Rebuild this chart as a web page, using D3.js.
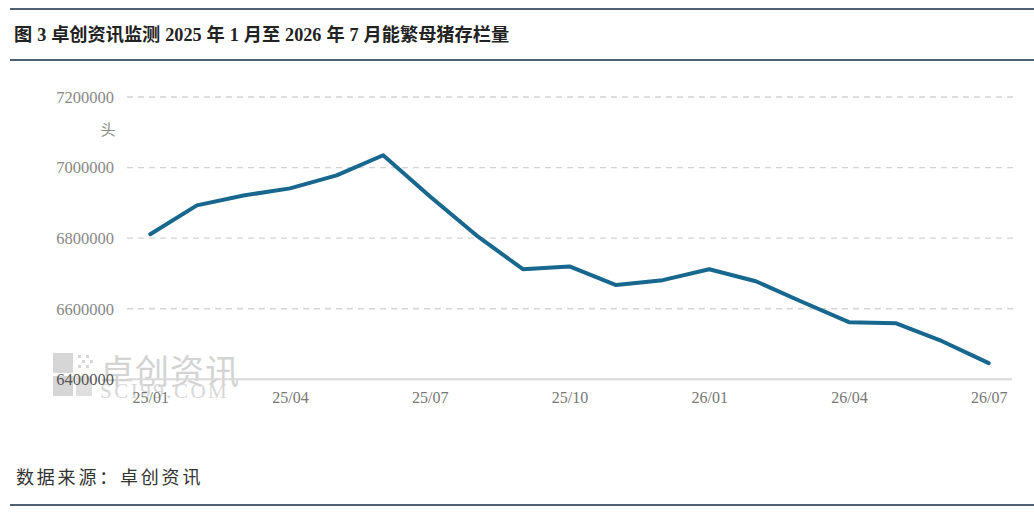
<!DOCTYPE html>
<html>
<head>
<meta charset="utf-8">
<script src="https://cdn.jsdelivr.net/npm/d3@7/dist/d3.min.js"></script>
<style>
  html, body { margin: 0; padding: 0; background: #fff; }
  svg { display: block; }
</style>
</head>
<body>
<svg id="chart" width="1034" height="519"></svg>
<script>
// ---- data ----
const months = ["25/01","25/02","25/03","25/04","25/05","25/06","25/07","25/08","25/09","25/10",
                "25/11","25/12","26/01","26/02","26/03","26/04","26/05","26/06","26/07"];
const sowStock = [6811000, 6893000, 6921000, 6941000, 6978000, 7035000, 6919000, 6808000, 6712000, 6720000,
                  6667000, 6681000, 6712000, 6678000, 6619000, 6562000, 6559000, 6508000, 6446000];
const yTicks = [6400000, 6600000, 6800000, 7000000, 7200000];
const xTickLabels = ["25/01","25/04","25/07","25/10","26/01","26/04","26/07"];
const titleText = "图 3 卓创资讯监测 2025 年 1 月至 2026 年 7 月能繁母猪存栏量";
const sourceText = "数据来源：卓创资讯";
const unitText = "头";

const svg = d3.select("#chart");
const serif = "'Liberation Serif', 'Times New Roman', 'Noto Sans CJK SC', serif";
const cjk = "'Liberation Serif', 'Noto Sans CJK SC', sans-serif";

// frame rules
const ruleColor = "#4d6070";
[9, 60, 505].forEach(y => {
  svg.append("line").attr("x1", 10).attr("x2", 1034).attr("y1", y).attr("y2", y)
    .attr("stroke", ruleColor).attr("stroke-width", 2);
});

svg.append("text").attr("x", 14).attr("y", 41)
  .attr("font-family", cjk).attr("font-size", 18.2).attr("font-weight", "bold")
  .attr("word-spacing", 0.4).attr("fill", "#222").text(titleText);

svg.append("text").attr("x", 16).attr("y", 484)
  .attr("font-family", "'Noto Sans CJK SC', sans-serif").attr("font-size", 18)
  .attr("letter-spacing", 2.8).attr("fill", "#333").text(sourceText);

// scales
const x = d3.scalePoint().domain(months).range([127, 1012]).padding(0.5);
const y = d3.scaleLinear().domain([6400000, 7200000]).range([379.3, 97]);

// watermark
const wm = svg.append("g").attr("opacity", 0.55);
wm.append("rect").attr("x", 53).attr("y", 353).attr("width", 20).attr("height", 20).attr("fill", "#b5b5b5");
wm.append("rect").attr("x", 53).attr("y", 376).attr("width", 20).attr("height", 20).attr("fill", "#b5b5b5");
wm.append("rect").attr("x", 76).attr("y", 376).attr("width", 16).attr("height", 20).attr("fill", "#c5c5c5");
[[78,355],[86,355],[82,360],[78,365],[86,365],[90,360]].forEach(p => {
  wm.append("rect").attr("x", p[0]).attr("y", p[1]).attr("width", 3).attr("height", 3).attr("fill", "#b5b5b5");
});
wm.append("text").attr("x", 100).attr("y", 384).attr("font-family", "'Noto Sans CJK SC', sans-serif")
  .attr("font-size", 34).attr("fill", "#b0b0b0").attr("letter-spacing", 1).text("卓创资讯");
wm.append("text").attr("x", 100).attr("y", 398).attr("font-family", serif)
  .attr("font-size", 21).attr("fill", "#b8b8b8").attr("letter-spacing", 2.5).text("SCI99.COM");

// gridlines
svg.append("g").selectAll("line").data(yTicks.filter(d => d !== 6400000)).join("line")
  .attr("x1", 127).attr("x2", 1013).attr("y1", d => y(d)).attr("y2", d => y(d))
  .attr("stroke", "#d4d4d4").attr("stroke-width", 1.3).attr("stroke-dasharray", "6,5");

// baseline
svg.append("line").attr("x1", 127).attr("x2", 1012).attr("y1", y(6400000)).attr("y2", y(6400000))
  .attr("stroke", "#d9d9d9").attr("stroke-width", 2);

// y axis
const yAxis = svg.append("g").attr("transform", "translate(114,0)")
  .call(d3.axisLeft(y).tickValues(yTicks).tickSize(0).tickPadding(0).tickFormat(d3.format("d")));
yAxis.select(".domain").remove();
yAxis.selectAll("text").attr("font-family", serif).attr("font-size", 16.5)
  .attr("fill", d => d === 6400000 ? "#555" : "#888");

svg.append("text").attr("x", 108).attr("y", 130).attr("dy", "0.35em").attr("text-anchor", "middle")
  .attr("font-family", "'Noto Sans CJK SC', sans-serif").attr("font-size", 15).attr("fill", "#888").text(unitText);

// x axis
const xAxis = svg.append("g").attr("transform", "translate(0,392)")
  .call(d3.axisBottom(x).tickValues(xTickLabels).tickSize(0).tickPadding(0));
xAxis.select(".domain").remove();
xAxis.selectAll("text").attr("font-family", serif).attr("font-size", 16).attr("fill", "#777");

// line
svg.append("path").datum(sowStock)
  .attr("fill", "none").attr("stroke", "#17678f").attr("stroke-width", 4)
  .attr("stroke-linejoin", "round").attr("stroke-linecap", "round")
  .attr("d", d3.line().x((d, i) => x(months[i])).y(d => y(d)));
</script>
</body>
</html>
